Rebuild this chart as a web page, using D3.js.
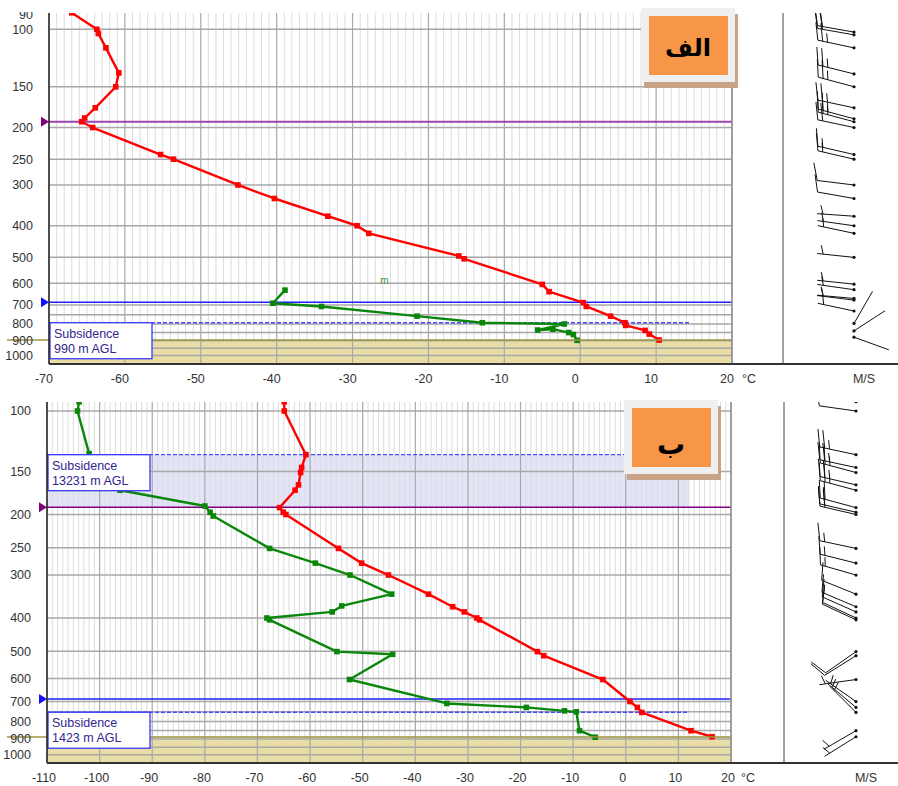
<!DOCTYPE html>
<meta charset="utf-8">
<style>
body { margin: 0; background: #fff; }
svg text { font-family: "Liberation Sans Narrow", "Liberation Sans", Arial, sans-serif; }
</style>
<svg width="898" height="786"></svg>
<script src="https://cdn.jsdelivr.net/npm/d3@7/dist/d3.min.js"></script>
<script>
// pressure grid / tick labels
var pLabels = [100, 150, 200, 250, 300, 400, 500, 600, 700, 800, 900, 1000];
var pMinor = [750, 850, 950];
var topTempTicks = [-70, -60, -50, -40, -30, -20, -10, 0, 10, 20];
var botTempTicks = [-110, -100, -90, -80, -70, -60, -50, -40, -30, -20, -10, 0, 10, 20];

// panel A (الف) - temperature
var topP = [89, 100, 103, 114, 136, 150, 174, 187, 192, 200, 242, 250, 300, 330, 374, 400, 422, 495, 505, 605, 637, 688, 707, 757, 793, 808, 837, 859, 896];
var topT = [-67.0, -63.7, -63.5, -62.5, -60.8, -61.2, -63.9, -65.3, -65.7, -64.25, -55.3, -53.6, -45.1, -40.3, -33.25, -29.4, -27.85, -16.0, -15.3, -5.0, -4.1, 0.4, 0.8, 4.0, 5.9, 6.0, 8.55, 9.1, 10.4];
// panel A - dew point
var topDewP = [630, 691, 707, 757, 793, 800, 835, 830, 850, 862, 898];
var topDewT = [-38.9, -40.5, -34.1, -21.5, -12.9, -2.1, -5.6, -3.6, -1.5, -0.9, -0.4];
// panel A - wind
var topWindP = [102, 104, 114, 137, 150, 174, 188, 192, 200, 242, 250, 300, 330, 374, 400, 422, 500, 604, 628, 668, 676, 730, 797, 840, 878];
var topWindDir = [280, 280, 282, 284, 285, 282, 285, 285, 282, 283, 283, 277, 280, 274, 278, 282, 276, 276, 278, 275, 277, 282, 30, 57, 110];
var topWindSpd = [20, 20, 25, 25, 25, 25, 25, 25, 20, 15, 15, 10, 10, 5, 5, 5, 5, 5, 5, 5, 5, 5, 2, 2, 2];
// panel A - levels
var topTropo = 192, topInversion = 686, topSubsid = 793, topSurface = 896;

// panel B (ب) - temperature
var botP = [94, 100, 134, 146, 151, 164, 170, 191, 197, 200, 251, 277, 300, 341, 371, 384, 400, 405, 501, 515, 604, 700, 728, 753, 851, 886];
var botT = [-64.9, -64.9, -60.8, -61.6, -61.8, -62.2, -62.85, -65.8, -65.1, -64.6, -54.6, -50.2, -45.1, -37.5, -32.9, -30.7, -28.3, -27.8, -16.8, -15.6, -4.35, 0.8, 2.2, 3.05, 12.4, 16.4];
// panel B - dew point
var botDewP = [94, 100, 133, 170, 189, 197, 202, 251, 277, 300, 341, 369, 384, 400, 405, 501, 510, 604, 709, 728, 745, 750, 851, 889];
var botDewT = [-103.9, -104.2, -102.0, -96.1, -80.0, -79.0, -78.4, -67.7, -59.0, -52.4, -44.5, -54.0, -55.8, -68.2, -67.7, -54.9, -44.3, -52.5, -34.0, -18.9, -11.65, -9.4, -8.8, -5.8];
// panel B - wind
var botWindP = botP;
var botWindDir = [278, 278, 282, 282, 285, 283, 285, 285, 283, 283, 282, 284, 286, 292, 293, 294, 295, 295, 235, 238, 262, 305, 310, 315, 240, 238];
var botWindSpd = [10, 10, 25, 25, 25, 25, 25, 20, 20, 20, 15, 15, 15, 10, 10, 10, 10, 10, 10, 10, 5, 5, 5, 5, 5, 5];
// panel B - levels
var botTropo = 190.5, botInversion = 688, botSubsidHigh = 134, botSubsidLow = 752, botSurface = 888;

var svg = d3.select("svg");
var defs = svg.append("defs");

function panel(o) {
  var g = svg.append("g");
  var x = d3.scaleLinear().domain([o.tMin, 20]).range([o.left, o.right]);
  var y = d3.scaleLog().domain([100, 1000]).range([o.y100, o.y1000]);

  defs.append("clipPath").attr("id", "clip" + o.id).append("rect")
    .attr("x", 0).attr("y", o.top).attr("width", 898).attr("height", o.bottom - o.top);
  defs.append("clipPath").attr("id", "lab" + o.id).append("rect")
    .attr("x", 0).attr("y", o.top - 1).attr("width", 898).attr("height", o.bottom - o.top + 40);

  var plot = g.append("g").attr("clip-path", "url(#clip" + o.id + ")");

  // shaded subsidence layer
  if (o.shade) {
    plot.append("rect")
      .attr("x", o.left).attr("y", y(o.shade[0]))
      .attr("width", x(o.shadeEnd) - o.left).attr("height", y(o.shade[1]) - y(o.shade[0]))
      .attr("fill", "#e4e4f8");
  }

  // minor temperature grid
  var minor = d3.range(o.tMin + 1, 20).filter(function(d) { return d % 10 !== 0; });
  plot.selectAll(".vmin").data(minor).enter().append("line")
    .attr("x1", function(d) { return x(d); }).attr("x2", function(d) { return x(d); })
    .attr("y1", o.top).attr("y2", o.bottom)
    .attr("stroke", "#dcdcdc").attr("stroke-width", 1);

  // ground
  plot.append("rect")
    .attr("x", o.left).attr("y", y(o.surface))
    .attr("width", o.right - o.left).attr("height", o.bottom - y(o.surface))
    .attr("fill", "#e8dda6");

  // major grid
  plot.selectAll(".vmaj").data(o.ticks).enter().append("line")
    .attr("x1", function(d) { return x(d); }).attr("x2", function(d) { return x(d); })
    .attr("y1", o.top).attr("y2", o.bottom)
    .attr("stroke", "#a8a8a8").attr("stroke-width", 1.2);
  plot.selectAll(".hmaj").data(pLabels.concat(pMinor)).enter().append("line")
    .attr("x1", o.left).attr("x2", o.right)
    .attr("y1", function(d) { return y(d); }).attr("y2", function(d) { return y(d); })
    .attr("stroke", "#a8a8a8").attr("stroke-width", 1.5);

  // ground line
  g.append("line")
    .attr("x1", 7).attr("x2", o.right)
    .attr("y1", y(o.surface)).attr("y2", y(o.surface))
    .attr("stroke", "#9c9440").attr("stroke-width", 1.5);

  // subsidence dashed
  plot.append("line")
    .attr("x1", o.left).attr("x2", x(o.shadeEnd))
    .attr("y1", y(o.subsidLow)).attr("y2", y(o.subsidLow))
    .attr("stroke", "#4a4aff").attr("stroke-width", 1.3).attr("stroke-dasharray", "4,2");
  if (o.shade) {
    plot.append("line")
      .attr("x1", o.left).attr("x2", x(o.shadeEnd))
      .attr("y1", y(o.shade[0])).attr("y2", y(o.shade[0]))
      .attr("stroke", "#4a4aff").attr("stroke-width", 1.3).attr("stroke-dasharray", "4,2");
  }

  // tropopause + inversion
  plot.append("line").attr("x1", o.left).attr("x2", o.right)
    .attr("y1", y(o.tropo)).attr("y2", y(o.tropo))
    .attr("stroke", o.tropoColor).attr("stroke-width", o.tropoWidth);
  plot.append("line").attr("x1", o.left).attr("x2", o.right)
    .attr("y1", y(o.inversion)).attr("y2", y(o.inversion))
    .attr("stroke", "#2020ff").attr("stroke-width", 1.5);
  [[o.tropo, "#800080"], [o.inversion, "#1010ff"]].forEach(function(m) {
    var yy = y(m[0]);
    g.append("path")
      .attr("d", "M" + (o.left - 8) + "," + (yy - 5) + "L" + o.left + "," + yy + "L" + (o.left - 8) + "," + (yy + 5) + "Z")
      .attr("fill", m[1]);
  });

  // sounding lines
  function trace(P, T, color) {
    var pts = P.map(function(p, i) { return [x(T[i]), y(p)]; });
    plot.append("path").datum(pts)
      .attr("d", d3.line())
      .attr("fill", "none").attr("stroke", color).attr("stroke-width", 2.4)
      .attr("stroke-linejoin", "round");
    plot.selectAll(null).data(pts).enter().append("rect")
      .attr("x", function(d) { return d[0] - 2.8; }).attr("y", function(d) { return d[1] - 2.8; })
      .attr("width", 5.6).attr("height", 5.6).attr("fill", color);
  }
  trace(o.dewP, o.dewT, "#0a870a");
  trace(o.P, o.T, "#ff0000");

  // subsidence label boxes
  o.boxes.forEach(function(b) {
    var by = y(b.p);
    g.append("rect").attr("x", o.left + 1).attr("y", by)
      .attr("width", 102).attr("height", 36)
      .attr("fill", "#fff").attr("stroke", "#3838ff").attr("stroke-width", 1.3);
    g.append("text").attr("x", o.left + 5).attr("y", by + 15)
      .attr("font-size", 12.5).attr("fill", "#33258f").text("Subsidence");
    g.append("text").attr("x", o.left + 5).attr("y", by + 30)
      .attr("font-size", 12.5).attr("fill", "#33258f").text(b.text);
  });

  // frame
  g.append("line").attr("x1", o.left).attr("x2", o.left).attr("y1", o.top).attr("y2", o.bottom)
    .attr("stroke", "#222").attr("stroke-width", 1.5);
  g.append("line").attr("x1", o.right).attr("x2", o.right).attr("y1", o.top).attr("y2", o.bottom)
    .attr("stroke", "#909090").attr("stroke-width", 1.5);
  g.append("line").attr("x1", o.windLine).attr("x2", o.windLine).attr("y1", o.top).attr("y2", o.bottom)
    .attr("stroke", "#444").attr("stroke-width", 1);
  g.append("line").attr("x1", o.left).attr("x2", 898).attr("y1", o.bottom).attr("y2", o.bottom)
    .attr("stroke", "#333").attr("stroke-width", 2);

  // axis labels
  var labs = g.append("g").attr("clip-path", "url(#lab" + o.id + ")")
    .attr("font-size", 12.5).attr("fill", "#333");
  labs.selectAll(".yl").data(o.pLabelList).enter().append("text")
    .attr("x", o.left - 16).attr("y", function(d) { return y(d); })
    .attr("dy", "0.35em").attr("text-anchor", "end").text(function(d) { return d; });
  labs.selectAll(".xl").data(o.ticks).enter().append("text")
    .attr("x", function(d) { return x(d) - o.tickShift; }).attr("y", o.bottom + 15)
    .attr("dy", "0.35em").attr("text-anchor", "middle").text(function(d) { return d; });
  labs.append("text").attr("x", o.right + 10).attr("y", o.bottom + 15).attr("dy", "0.35em").text("°C");
  labs.append("text").attr("x", o.windX + 10).attr("y", o.bottom + 15).attr("dy", "0.35em")
    .attr("text-anchor", "middle").text("M/S");

  // wind barbs
  var wg = plot.append("g").attr("stroke", "#111").attr("stroke-width", 1).attr("fill", "none");
  o.windP.forEach(function(p, i) {
    var bx = o.windX, by = y(p);
    var r = o.windDir[i] * Math.PI / 180;
    var ux = Math.sin(r), uy = -Math.cos(r);
    var L = 37;
    var tx = bx + ux * L, ty = by + uy * L;
    wg.append("line").attr("x1", bx).attr("y1", by).attr("x2", tx).attr("y2", ty);
    wg.append("circle").attr("cx", bx).attr("cy", by).attr("r", 1.6).attr("fill", "#111").attr("stroke", "none");
    var a = 72 * Math.PI / 180;
    var fx = ux * Math.cos(a) - uy * Math.sin(a), fy = ux * Math.sin(a) + uy * Math.cos(a);
    var spd = o.windSpd[i];
    var n = Math.floor(spd / 10), half = (spd % 10) >= 5;
    var pos = 0;
    for (var k = 0; k < n; k++) {
      var sx = tx - ux * pos, sy = ty - uy * pos;
      wg.append("line").attr("x1", sx).attr("y1", sy).attr("x2", sx + fx * 18).attr("y2", sy + fy * 18);
      pos += 5;
    }
    if (half) {
      if (n === 0) pos = 6;
      var hx = tx - ux * pos, hy = ty - uy * pos;
      wg.append("line").attr("x1", hx).attr("y1", hy).attr("x2", hx + fx * 9).attr("y2", hy + fy * 9);
    }
  });

  return { x: x, y: y, g: g };
}

var A = panel({
  id: "a", tMin: -70, left: 49, right: 732, top: 13, bottom: 364,
  y100: 29.3, y1000: 355.6, ticks: topTempTicks, tickShift: 5,
  pLabelList: [90].concat(pLabels),
  P: topP, T: topT, dewP: topDewP, dewT: topDewT,
  windP: topWindP, windDir: topWindDir, windSpd: topWindSpd,
  windX: 854, windLine: 783,
  tropo: topTropo, tropoColor: "#9b45ad", tropoWidth: 2.2,
  inversion: topInversion, subsidLow: topSubsid, shade: null, shadeEnd: 14.5,
  surface: topSurface,
  boxes: [{ p: topSubsid, text: "990 m AGL" }]
});
A.g.append("text").attr("x", A.x(-25.8)).attr("y", A.y(603)).attr("font-size", 10)
  .attr("fill", "#3c9a3c").attr("text-anchor", "middle").text("m");

var B = panel({
  id: "b", tMin: -110, left: 47, right: 731, top: 402, bottom: 763,
  y100: 411, y1000: 754.8, ticks: botTempTicks, tickShift: 3,
  pLabelList: pLabels,
  P: botP, T: botT, dewP: botDewP, dewT: botDewT,
  windP: botWindP, windDir: botWindDir, windSpd: botWindSpd,
  windX: 856, windLine: 784,
  tropo: botTropo, tropoColor: "#800080", tropoWidth: 1.6,
  inversion: botInversion, subsidLow: botSubsidLow, shade: [botSubsidHigh, botTropo], shadeEnd: 12,
  surface: botSurface,
  boxes: [{ p: botSubsidHigh, text: "13231 m AGL" }, { p: botSubsidLow, text: "1423 m AGL" }]
});

// panel tags
function tag(x0, y0, label, size, dy) {
  svg.append("rect").attr("x", x0 + 3).attr("y", y0 + 6).attr("width", 94).attr("height", 74).attr("fill", "#c9a386");
  svg.append("rect").attr("x", x0).attr("y", y0).attr("width", 94).attr("height", 74).attr("fill", "#efefef");
  svg.append("rect").attr("x", x0 + 8).attr("y", y0 + 8).attr("width", 79).attr("height", 59).attr("fill", "#f79646");
  svg.append("text").attr("x", x0 + 47).attr("y", y0 + 38 + dy).attr("dy", "0.35em")
    .attr("text-anchor", "middle").attr("font-size", size).attr("font-weight", "bold")
    .style("font-family", "'DejaVu Sans', sans-serif").attr("fill", "#000").text(label);
}
tag(641, 8, "الف", 24, 2);
tag(624, 400, "ب", 28, 6);
</script>
